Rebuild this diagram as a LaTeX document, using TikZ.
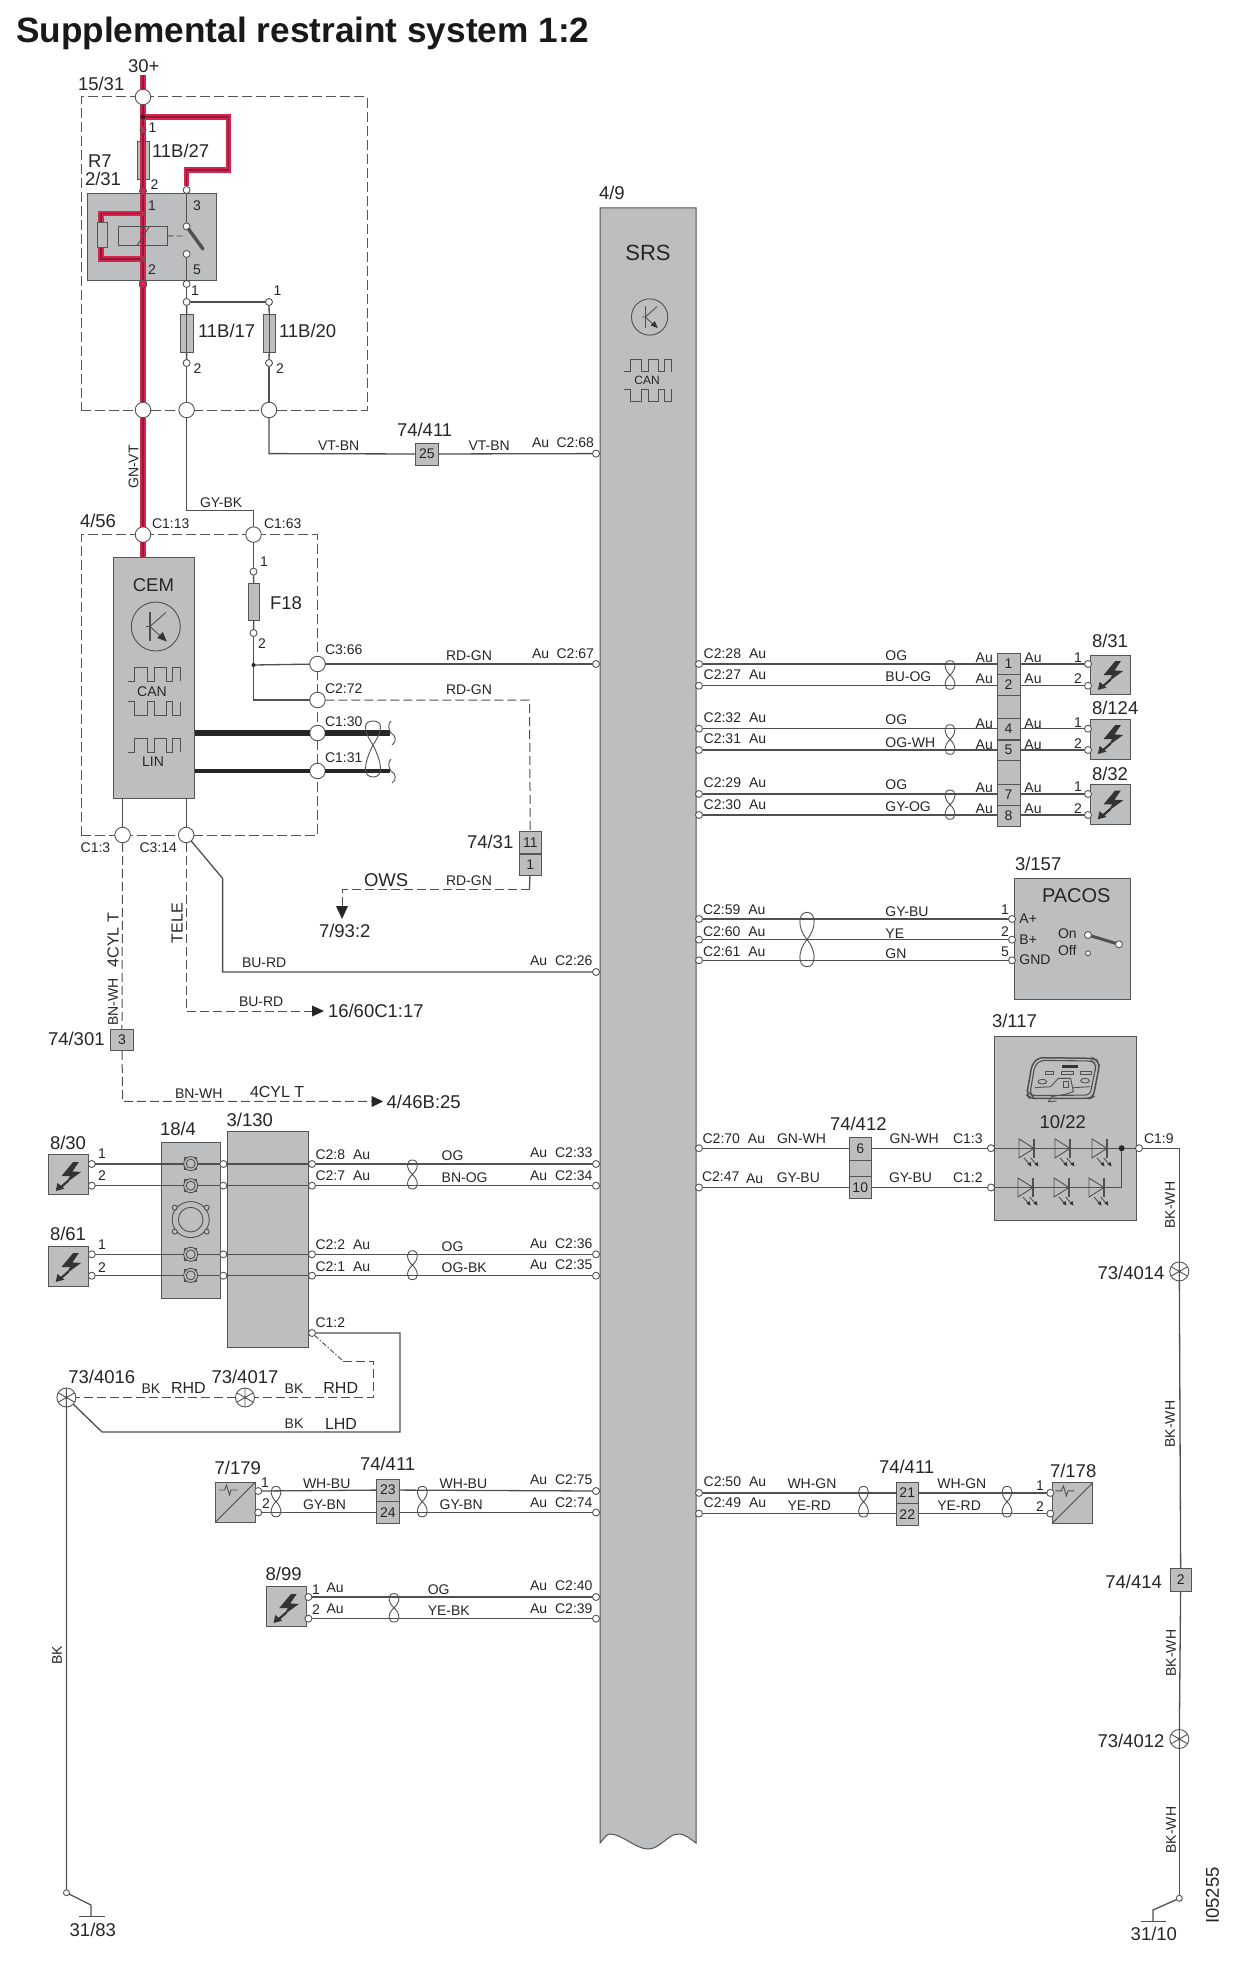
\documentclass[tikz,border=0pt]{standalone}
\usepackage{fontspec}
\setmainfont{Liberation Sans}
\usetikzlibrary{calc}
\definecolor{gfill}{HTML}{BDBEC0}
\definecolor{gline}{HTML}{555555}
\definecolor{txt}{HTML}{262626}
\definecolor{crim}{HTML}{D8234E}
\definecolor{crimcore}{HTML}{8E1B38}
\definecolor{wirec}{HTML}{505050}
\newcounter{tn}
\newcommand{\tS}[3]{\stepcounter{tn}\node[smalltxt] (t\arabic{tn}) at (#1,#2) {#3};}
\newcommand{\tL}[3]{\stepcounter{tn}\node[bigtxt] (t\arabic{tn}) at (#1,#2) {#3};}
\newcommand{\tM}[3]{\stepcounter{tn}\node[midtxt] (t\arabic{tn}) at (#1,#2) {#3};}
\newcommand{\tC}[3]{\stepcounter{tn}\node[smalltxt,anchor=center] (t\arabic{tn}) at (#1,#2) {#3};}
\newcommand{\tRS}[3]{\stepcounter{tn}\node[smalltxt,anchor=center,rotate=90] (t\arabic{tn}) at (#1,#2) {#3};}
\newcommand{\tRL}[3]{\stepcounter{tn}\node[bigtxt,anchor=center,rotate=90] (t\arabic{tn}) at (#1,#2) {#3};}
\newcommand{\tRM}[3]{\stepcounter{tn}\node[midtxt,anchor=center,rotate=90] (t\arabic{tn}) at (#1,#2) {#3};}
\newcommand{\gb}[6]{\node[gbox,minimum width={(#4-#2)*1pt},minimum height={(#5-#3)*1pt},font=\fontsize{14}{14}\selectfont] (#1) at ({(#2+#4)/2},{(#3+#5)/2}) {#6};}
\newcommand{\pinat}[3]{\node[pinc] (#1) at (#2,#3) {};}
\newcommand{\conn}[3]{\node[connc] (#1) at (#2,#3) {};}
\newcommand{\mytwist}[4]{\draw[twistline] (#1,{(#2+#3)/2}) .. controls ({#1+#4},{(#2+#3)/2-(#3-#2)*0.2}) and ({#1+#4},#2) .. (#1,#2) .. controls ({#1-#4},#2) and ({#1-#4},{(#2+#3)/2-(#3-#2)*0.2}) .. (#1,{(#2+#3)/2}) .. controls ({#1+#4},{(#2+#3)/2+(#3-#2)*0.2}) and ({#1+#4},#3) .. (#1,#3) .. controls ({#1-#4},#3) and ({#1-#4},{(#2+#3)/2+(#3-#2)*0.2}) .. (#1,{(#2+#3)/2});}
\newcommand{\mybolt}[2]{\begin{scope}[shift={(#1,#2)},scale=1.15]
\fill[boltc] (4,-12)--(9,-12)--(3.5,-4)--(11,-3.5)--(-2,6)--(1.5,0)--(-6,0)--cycle;
\draw[boltc,draw=black!80,line width=2.2] (0,4)--(-8,11);
\fill[boltc] (-11,13)--(-9.5,6)--(-3.5,11)--cycle;
\end{scope}}
\newcommand{\mytrans}[3]{\begin{scope}[shift={(#1,#2)},scale=#3]
\draw[sym] (0,0) circle [radius=24.5];
\draw[sym,line width=1.2] (-5.8,-14.5)--(-5.8,14.5);
\draw[sym] (-10,0)--(-5.8,0) (-5.8,0)--(10,-14) (-5.8,0)--(5,10);
\fill[boltc] (11,15)--(1.5,11.5)--(7,5.5)--cycle;
\end{scope}}
\newcommand{\pulseA}[3]{\begin{scope}[shift={(#1,#2)},scale=#3]
\draw[sym] (0,14)--(6.7,14)--(6.7,0)--(19.3,0)--(19.3,14)--(26.3,14)--(26.3,0)--(38.3,0)--(38.3,14)--(45,14)--(45,0)--(52.3,0)--(52.3,14);
\end{scope}}
\newcommand{\pulseB}[3]{\begin{scope}[shift={(#1,#2)},scale=#3]
\draw[sym] (0,0)--(6.7,0)--(6.7,14)--(19.3,14)--(19.3,0)--(26.3,0)--(26.3,14)--(38.3,14)--(38.3,0)--(45,0)--(45,14)--(52.3,14)--(52.3,0);
\end{scope}}
\newcommand{\myled}[2]{\begin{scope}[shift={(#1,#2)}]
\draw[sym] (0,-9.5)--(0,9.5)--(15,0)--cycle;
\draw[sym,line width=1.2] (15,-9.5)--(15,9.5);
\draw[sym] (5,9.5)--(11,16.5) (11.7,9.5)--(17.7,16.5);
\fill[boltc] (12.5,18)--(8.5,16)--(11.5,13.5)--cycle (19.5,18)--(15.5,16)--(18.5,13.5)--cycle;
\end{scope}}
\newcommand{\mygear}[2]{\begin{scope}[shift={(#1,#2)}]
\draw[sym,line width=1.4] (-6,-6) rectangle (6,6);
\draw[sym,fill=gfill] (0,0) circle [radius=7];
\draw[sym] (0,0) circle [radius=4.5];
\end{scope}}
\newcommand{\myspokes}[2]{\begin{scope}[shift={(#1,#2)}]
\draw[sym] (0,-9.5)--(0,9.5) (-8.2,-4.7)--(8.2,4.7) (-8.2,4.7)--(8.2,-4.7);
\end{scope}}
\newcommand{\mywaveform}[2]{\begin{scope}[shift={(#1,#2)}]
\draw[sym] (3,8)--(9,8)--(11,3)--(14,13)--(15.5,8)--(22,8);
\end{scope}}
\tikzset{
 x=1pt,y=-1pt,
 smalltxt/.style={font=\fontsize{14}{14}\selectfont,text=txt,inner sep=0pt,outer sep=0pt,anchor=west},
 bigtxt/.style={font=\fontsize{18.5}{18.5}\selectfont,text=txt,inner sep=0pt,outer sep=0pt,anchor=west},
 midtxt/.style={font=\fontsize{16}{16}\selectfont,text=txt,inner sep=0pt,outer sep=0pt,anchor=west},
 gbox/.style={draw=gline,fill=gfill,line width=1,inner sep=0pt,outer sep=0pt,text=txt},
 pinc/.style={circle,draw=gline,fill=white,line width=0.9,minimum size=7pt,inner sep=0pt,outer sep=0pt},
 connc/.style={circle,draw=gline,fill=white,line width=0.9,minimum size=15.5pt,inner sep=0pt,outer sep=0pt},
 gndc/.style={circle,draw=gline,fill=white,line width=0.9,minimum size=19pt,inner sep=0pt,outer sep=0pt},
 wire/.style={draw=wirec,line width=1.3},
 dwire/.style={draw=wirec,line width=1,dash pattern=on 9pt off 4pt},
 dbox/.style={draw=gline,line width=1,dash pattern=on 10pt off 4pt},
 twistline/.style={draw=wirec,line width=0.9},
 sym/.style={draw=wirec,line width=0.9},
 boltc/.style={draw=none,fill=black!80},
 blk/.style={draw=none,fill=black!85},
 redwire/.style={draw=crimcore,line width=1.8,preaction={draw=crim,line width=6.6pt}},
 redthin/.style={draw=crimcore,line width=1.6,preaction={draw=crim,line width=5.2pt}},
 thickbus/.style={draw=black!85,line width=6.5},
 thinbus/.style={draw=black!85,line width=3.5},
 arrowhd/.style={draw=none,fill=black!85},
}
\begin{document}
\begin{tikzpicture}
\useasboundingbox (0,0) rectangle (1242,1980);
\fill[white] (0,0) rectangle (1242,1980);
% title
\node[font=\fontsize{35.2}{35.2}\selectfont\bfseries,text=black!90,inner sep=0pt,anchor=base west] (title) at (16,43) {Supplemental restraint system 1:2};
% dashed housings
\node[dbox,minimum width=286pt,minimum height=313pt,inner sep=0pt,outer sep=0pt] (box1531) at (224,253.5) {};
\node[dbox,minimum width=236.5pt,minimum height=300.2pt,inner sep=0pt,outer sep=0pt] (box456) at (199.25,684.9) {};
% SRS body
\draw[gline,fill=gfill,line width=1] (600,208) -- (696,208) -- (696,1843) .. controls (690,1839) and (686,1834) .. (678,1834) .. controls (668,1834) and (660,1849) .. (648,1849) .. controls (636,1849) and (622,1834) .. (610,1834) .. controls (606,1834) and (604,1839) .. (600,1843) -- cycle;
\node[font=\fontsize{22}{22}\selectfont,text=txt,inner sep=0pt] (srsname) at (648,253) {SRS};
\mytrans{649.6}{317}{0.74}
\pulseA{624.3}{359}{0.9}
\tC{647}{380.7}{\fontsize{12}{12}\selectfont CAN}
\pulseB{624.3}{389}{0.9}
% gray boxes
\gb{relay}{87.4}{193.6}{216.7}{280.4}{}
\gb{cem}{113.5}{557.3}{194.5}{798.5}{}
\gb{f27}{137}{142}{149.5}{180}{}
\gb{f17}{180}{314}{193.4}{352}{}
\gb{f20}{263.4}{314}{275.6}{352}{}
\gb{f18}{248.3}{583.4}{259.8}{620.6}{}
\gb{b25}{415.6}{443}{438}{465}{25}
\gb{b11}{519.6}{831.4}{541}{853}{11}
\gb{b1}{519.6}{854}{541}{875}{1}
\gb{b3}{110.3}{1029.5}{133.6}{1050.8}{3}
\gb{s830}{48.3}{1154.6}{88.6}{1194.6}{}
\gb{s861}{48.3}{1246.4}{88.6}{1286.4}{}
\gb{m184}{161.3}{1142.5}{220.6}{1298}{}
\gb{m3130}{227.4}{1131.4}{308.4}{1347}{}
\gb{s7179}{215.5}{1482}{255.4}{1522}{}
\gb{b23}{376.4}{1479}{399.4}{1501}{23}
\gb{b24}{376.4}{1501.4}{399.4}{1523.6}{24}
\gb{s899}{266}{1586.8}{306.4}{1626.8}{}
\gb{row1}{997}{653.3}{1020}{674}{1}
\gb{row2}{997}{674.7}{1020}{695.3}{2}
\gb{row3}{997}{695.3}{1020}{718.3}{}
\gb{row4}{997}{718.3}{1020}{739.3}{4}
\gb{row5}{997}{740}{1020}{760}{5}
\gb{row6}{997}{760}{1020}{784.3}{}
\gb{row7}{997}{784.3}{1020}{805}{7}
\gb{row8}{997}{805}{1020}{826}{8}
\gb{s831}{1090.4}{655}{1130.5}{694.7}{}
\gb{s8124}{1090.4}{719.3}{1130.5}{759}{}
\gb{s832}{1090.4}{784.3}{1130.5}{824.3}{}
\gb{pacos}{1014.4}{878.3}{1130.5}{999.3}{}
\gb{b6}{849.5}{1137.5}{871}{1160.7}{6}
\gb{bblank}{849.5}{1160.7}{871}{1176.4}{}
\gb{b10}{849.5}{1176.4}{871}{1198}{10}
\gb{m3117}{994.3}{1036.4}{1136}{1220.4}{}
\gb{b21}{896.5}{1482}{918}{1503.6}{21}
\gb{b22}{896.5}{1503.6}{918}{1525.7}{22}
\gb{s7178}{1052.4}{1482.9}{1092.5}{1523.2}{}
\gb{b2}{1170.4}{1568.3}{1191}{1591.7}{2}
% large connectors
\conn{cA}{143}{97} \conn{cB}{143}{410} \conn{cC}{186.6}{410} \conn{cD}{269}{410}
\conn{cE}{143}{534.6} \conn{cF}{253.5}{534.6} \conn{cG}{317.5}{664} \conn{cH}{317.5}{700}
\conn{cI}{317.5}{733} \conn{cJ}{317.5}{771} \conn{cK}{122.6}{835} \conn{cL}{186.2}{835}
% SRS pins
\pinat{l68}{596}{453.6} \pinat{l67}{596}{664} \pinat{l26}{596}{972}
\pinat{l33}{596}{1164} \pinat{l34}{596}{1185.7} \pinat{l36}{596}{1254.3} \pinat{l35}{596}{1275.7}
\pinat{l75}{596}{1491} \pinat{l74}{596}{1512.5} \pinat{l40}{596}{1597} \pinat{l39}{596}{1618.6}
\pinat{r28}{699}{664} \pinat{r27}{699}{685.7} \pinat{r32}{699}{728.7} \pinat{r31}{699}{750}
\pinat{r29}{699}{794} \pinat{r30}{699}{815} \pinat{r59}{699}{919} \pinat{r60}{699}{939.7} \pinat{r61}{699}{960.3}
\pinat{r70}{699}{1148.2} \pinat{r47}{699}{1187.5} \pinat{r50}{699}{1492.9} \pinat{r49}{699}{1513.6}
% other pins
\pinat{p3}{186.6}{190} \pinat{psw}{186.6}{226.4} \pinat{pct}{186.6}{254} \pinat{p5}{186.6}{284}
\pinat{p171}{186.6}{302} \pinat{p201}{269}{302} \pinat{p172}{186.6}{363} \pinat{p202}{269}{363}
\pinat{f181}{253.5}{571.6} \pinat{f182}{253.5}{633}
\pinat{a1}{91.7}{1164} \pinat{a2}{91.7}{1185.7} \pinat{a3}{91.7}{1254.3} \pinat{a4}{91.7}{1275.7}
\pinat{m1}{223.4}{1164} \pinat{m2}{223.4}{1185.7} \pinat{m3}{223.4}{1254.3} \pinat{m4}{223.4}{1275.7}
\pinat{n1}{312}{1164} \pinat{n2}{312}{1185.7} \pinat{n3}{312}{1254.3} \pinat{n4}{312}{1275.7} \pinat{nC}{312}{1333}
\pinat{k1}{258.2}{1491} \pinat{k2}{258.2}{1512.5} \pinat{h1}{308.4}{1597} \pinat{h2}{308.4}{1618.6}
\pinat{q1}{1088}{664} \pinat{q2}{1088}{685.7} \pinat{q4}{1088}{728.7} \pinat{q5}{1088}{750} \pinat{q7}{1088}{794} \pinat{q8}{1088}{815}
\pinat{pa}{1012}{919} \pinat{pb}{1012}{939.7} \pinat{pg}{1012}{960.3}
\pinat{c13}{991}{1148.2} \pinat{c12}{991}{1187.5} \pinat{c19}{1139}{1148.2}
\pinat{z1}{1050.3}{1492.9} \pinat{z2}{1050.3}{1513.6}
\node[pinc,minimum size=6pt] (g83p) at (66.5,1892.7) {};
\node[pinc,minimum size=6pt] (g10p) at (1179.3,1898.3) {};
% splice circles
\node[gndc] (g4016) at (66.4,1397.5) {};
\node[gndc] (g4017) at (245,1397.5) {};
\node[gndc] (g4014) at (1179.3,1271.4) {};
\node[gndc] (g4012) at (1179.3,1739) {};
% named free points
\coordinate (top30) at (143,75);
\coordinate (j117) at (143,117);
\coordinate (r1) at (228.5,117); \coordinate (r2) at (228.5,170); \coordinate (r3) at (186.6,170);
\coordinate (lp1) at (143,213.6); \coordinate (lp2) at (101,213.6); \coordinate (lp3) at (101,259); \coordinate (lp4) at (143,259);
\coordinate (v1) at (269,453.6);
\coordinate (gk1) at (186.6,510.7); \coordinate (gk2) at (253.5,510.7);
\coordinate (jF) at (253.5,665); \coordinate (hr) at (253.5,700);
\coordinate (rg1) at (529.5,700); \coordinate (rg2) at (529.5,889); \coordinate (rg3) at (342,889); \coordinate (arr793) at (342,908);
\coordinate (can1) at (194.5,733); \coordinate (can2) at (389.5,733); \coordinate (lin1) at (194.5,771); \coordinate (lin2) at (389.5,771);
\coordinate (bu1) at (222.6,878.4); \coordinate (bu2) at (222.6,972);
\coordinate (te1) at (186.2,1011); \coordinate (te2) at (313,1011);
\coordinate (bn1) at (122.6,1101.4); \coordinate (bn2) at (372,1101.4);
\coordinate (lh1) at (400,1333); \coordinate (lh2) at (400,1432); \coordinate (lh3) at (102,1432);
\coordinate (rh1) at (343,1361); \coordinate (rh2) at (373.7,1361); \coordinate (rh3) at (373.7,1397.5);
\coordinate (gl1) at (91,1905); \coordinate (gl2) at (91,1916.7);
\coordinate (gr1) at (1153,1910); \coordinate (gr2) at (1153,1921.7);
\coordinate (c19c) at (1179.3,1148.2);
\coordinate (j1121) at (1121.6,1148.2); \coordinate (j1122) at (1121.6,1187.5);
% red power wires
\draw[redwire] (top30) -- (cA);
\draw[redwire] (cA) -- (cB);
\draw[redwire] (cB) -- (cE);
\draw[redwire] (cE) -- (cem.north -| cE);
\draw[redthin] (j117) -- (r1) -- (r2) -- (r3) -- (p3);
\draw[redthin] (lp1) -- (lp2) -- (lp3) -- (lp4);
\fill[black!85] (j117) circle [radius=2.4];
\node[pinc,fill=crim,minimum size=6pt] (p27a) at (143,130) {};
\node[pinc,fill=crim,minimum size=7pt] (p27b) at (143,191) {};
\node[pinc,fill=crim,minimum size=4.5pt] (p11) at (143,213.6) {};
\node[pinc,fill=crim,minimum size=4.5pt] (p12) at (143,259) {};
\node[pinc,fill=crim,minimum size=7pt,rectangle,rounded corners=2pt] (p13) at (143,284) {};
% relay internals
\node[gbox,minimum width=9.5pt,minimum height=25.5pt] (rres) at (102.7,235.2) {};
\node[draw=wirec,line width=0.9,minimum width=49pt,minimum height=19pt,inner sep=0pt,outer sep=0pt] (coil) at (143.1,235.9) {};
\draw[sym] (137,245.4)--(149.5,226.4);
\draw[sym,dash pattern=on 6pt off 3pt] (coil.east) -- (186,236);
\draw[sym] (p3) -- (psw);
\draw[wirec,line width=3.4,line cap=round] (psw) -- (203,249);
\draw[sym] (pct) -- (p5);
\draw[wire] (p5) -- (p171);
\draw[wire] (p171) -- (p201);
\draw[wire] (p171) -- (f17);
\draw[wire] (f17.north) -- (f17.south);
\draw[wire] (f17) -- (p172);
\draw[wire] (p172) -- (cC);
\draw[wire] (p201) -- (f20);
\draw[wire] (f20.north) -- (f20.south);
\draw[wire] (f20) -- (p202);
\draw[wire] (p202) -- (cD);
% upper wiring
\draw[wire] (cD) -- (v1) -- (b25);
\draw[wire] (b25) -- (l68);
\draw[wire] (cC) -- (gk1) -- (gk2) -- (cF);
\draw[wire] (cF) -- (f181);
\draw[wire] (f181) -- (f18);
\draw[wire] (f18) -- (f182);
\draw[wire] (f182) -- (hr) -- (cH);
\draw[wire] (jF) -- (cG);
\fill[black!85] (jF) circle [radius=2];
\draw[wire] (cG) -- (l67);
\draw[dwire] (cH) -- (rg1) -- (b11);
\draw[wire] (b1) -- (rg2);
\draw[dwire] (rg2) -- (rg3) -- (arr793);
\fill[arrowhd] (336,906)--(348,906)--(342,919)--cycle;
\draw[thickbus] (can1) -- (cI);
\draw[thickbus] (cI) -- (can2);
\draw[thinbus] (lin1) -- (cJ);
\draw[thinbus] (cJ) -- (lin2);
\draw[twistline] (373,745) .. controls (363,730) and (363,721) .. (373,721) .. controls (383,721) and (383,730) .. (373,745) .. controls (363,765) and (363,777) .. (373,777) .. controls (383,777) and (383,765) .. (373,745);
\draw[twistline] (391,721) .. controls (388,724) and (388,729) .. (391,733) .. controls (396,735) and (397,742) .. (392,745);
\draw[twistline] (391,759) .. controls (388,762) and (388,767) .. (391,771) .. controls (396,773) and (397,780) .. (392,783);
\draw[wire] (cem.south -| cK) -- (cK);
\draw[wire] (cem.south -| cL) -- (cL);
\draw[dwire] (cK) -- (b3);
\draw[dwire] (b3) -- (bn1) -- (bn2);
\fill[arrowhd] (371.7,1096)--(371.7,1107)--(383,1101.4)--cycle;
\draw[dwire] (cL) -- (te1) -- (te2);
\fill[arrowhd] (312,1005.5)--(312,1016.5)--(324,1011)--cycle;
\draw[wire] (cL) -- (bu1) -- (bu2) -- (l26);
% sensor wires
\foreach \u/\v/\w/\z in {a1/m1/n1/l33,a2/m2/n2/l34,a3/m3/n3/l36,a4/m4/n4/l35}{
 \draw[wire] (\u) -- (\v);
 \draw[wire] (\v) -- (\w);
 \draw[wire] (\w) -- (\z);
}
\mygear{190.7}{1163.6}\mygear{190.7}{1185.7}\mygear{190.7}{1254.3}\mygear{190.7}{1275.4}
\draw[sym] (190.7,1219.6) ellipse [x radius=18.5,y radius=18];
\draw[sym] (190.7,1219.6) circle [radius=12.3];
\foreach \dx in {-16,16}{\foreach \dy in {-12,12}{\draw[sym,fill=gfill] (190.7+\dx,1219.6+\dy) circle [radius=2.5];}}
\mytwist{412.4}{1160}{1189}{6.5}
\mytwist{412.4}{1250.7}{1279.6}{6.5}
% grounds left
\draw[wire] (nC) -- (lh1) -- (lh2) -- (lh3) -- (g4016);
\draw[sym,dash pattern=on 5pt off 2pt on 1.5pt off 2pt] (nC) -- (rh1);
\draw[dwire] (rh1) -- (rh2) -- (rh3) -- (g4017);
\draw[dwire] (g4017) -- (g4016);
\draw[wire] (g4016) -- (g83p);
\draw[wire] (g83p) -- (gl1) -- (gl2);
\coordinate (gb1) at (79,1916.7); \coordinate (gb2) at (105.4,1916.7);
\draw[wire] (gb1) -- (gb2);
\myspokes{66.4}{1397.5}\myspokes{245}{1397.5}\myspokes{1179.3}{1271.4}\myspokes{1179.3}{1739}
% 7/179 row
\draw[wire] (k1) -- (b23); \draw[wire] (b23) -- (l75);
\draw[wire] (k2) -- (b24); \draw[wire] (b24) -- (l74);
\draw[sym] (s7179.south west) -- (s7179.north east);
\mywaveform{215.5}{1482}
\mytwist{276}{1486.4}{1516.8}{6.5}
\mytwist{422.3}{1486.4}{1516.8}{6.5}
% 8/99 row
\draw[wire] (h1) -- (l40); \draw[wire] (h2) -- (l39);
\mytwist{394}{1593.6}{1622}{6.5}
\mybolt{68.4}{1176}\mybolt{68.4}{1267}\mybolt{286.2}{1608}
\mybolt{1110.5}{675}\mybolt{1110.5}{739}\mybolt{1110.5}{804.3}
% right rows
\foreach \u/\v/\w in {r28/row1/q1,r27/row2/q2,r32/row4/q4,r31/row5/q5,r29/row7/q7,r30/row8/q8}{
 \draw[wire] (\u) -- (\u -| \v.west);
 \draw[wire] (\u -| \v.east) -- (\w);
}
\mytwist{950}{660.7}{689.3}{6.5}
\mytwist{950}{724.7}{754.3}{6.5}
\mytwist{950}{790}{819.3}{6.5}
\draw[wire] (r59) -- (pa); \draw[wire] (r60) -- (pb); \draw[wire] (r61) -- (pg);
\mytwist{807}{912.3}{966.7}{9.5}
\pinat{swa}{1088}{935} \pinat{swb}{1119}{944.3}
\node[pinc,minimum size=5pt] (swc) at (1088,953.3) {};
\draw[wirec,line width=3] (swa) -- (swb);
% 3/117
\draw[wire] (r70) -- (r70 -| b6.west); \draw[wire] (r70 -| b6.east) -- (c13);
\draw[wire] (r47) -- (r47 -| b10.west); \draw[wire] (r47 -| b10.east) -- (c12);
\draw[wire] (c13) -- (c19);
\draw[wire] (c12) -- (j1122) -- (j1121);
\fill[black!85] (j1121) circle [radius=3];
\myled{1019}{1148.4}\myled{1055}{1148.4}\myled{1092}{1148.4}
\myled{1018}{1187.5}\myled{1054}{1187.5}\myled{1089}{1187.5}
\begin{scope}[shift={(1010,1045)},scale=0.3333]
\draw[sym,line width=1.5,rounded corners=5] (85,38)--(250,40)--(268,50)--(266,72)--(250,155)--(240,160)--(60,160)--(50,150)--(66,58)--cycle;
\draw[sym,line width=1.1,rounded corners=4] (92,46)--(245,48)--(258,56)--(256,72)--(240,150)--(66,152)--(60,146)--(74,62)--cycle;
\draw[sym] (105,80) rectangle (130,88) (155,80) rectangle (190,88) (212,80) rectangle (245,88);
\fill[boltc] (155,60) rectangle (205,68);
\draw[sym] (97,110) ellipse [x radius=13,y radius=7];
\draw[sym] (225,107) ellipse [x radius=13,y radius=7];
\draw[sym] (75,128)--(122,125)--(145,100)--(182,100)--(190,140)--(165,148)--(125,155)--(115,170)--(140,168);
\draw[sym] (160,108) rectangle (176,128);
\draw[sym] (190,128)--(240,125);
\end{scope}
% right ground chain
\draw[wire] (c19) -- (c19c) -- (g4014);
\draw[wire] (g4014) -- (b2);
\draw[wire] (b2) -- (g4012);
\draw[wire] (g4012) -- (g10p);
\draw[wire] (g10p) -- (gr1) -- (gr2);
\coordinate (gb3) at (1141,1921.7); \coordinate (gb4) at (1165.7,1921.7);
\draw[wire] (gb3) -- (gb4);
% 7/178
\draw[wire] (r50) -- (r50 -| b21.west); \draw[wire] (r50 -| b21.east) -- (z1);
\draw[wire] (r49) -- (r49 -| b22.west); \draw[wire] (r49 -| b22.east) -- (z2);
\draw[sym] (s7178.south west) -- (s7178.north east);
\mywaveform{1052.4}{1482.9}
\mytwist{863.5}{1486.4}{1517}{6.5}
\mytwist{1007}{1486.4}{1517}{6.5}
% CEM symbols
\mytrans{155.8}{626.5}{1}
\pulseA{127.7}{667}{1}
\pulseB{127.7}{701.7}{1}
\pulseA{127.7}{738}{1}
% === big labels ===
\tL{128}{66}{30+}
\tL{78}{84}{15/31}
\tL{152}{151}{11B/27}
\tL{88}{161}{R7}
\tL{85}{179}{2/31}
\tL{198}{331}{11B/17}
\tL{279}{331}{11B/20}
\tL{397}{430}{74/411}
\tL{80}{521}{4/56}
\tL{599}{193}{4/9}
\tL{270}{603.6}{F18}
\tL{467}{842}{74/31}
\tL{319}{931}{7/93:2}
\tL{364}{880}{OWS}
\tL{48}{1038.5}{74/301}
\tL{386.7}{1101.4}{4/46B:25}
\tL{328}{1011}{16/60C1:17}
\tM{250}{1092}{4CYL T}
\tRM{177}{923}{TELE}
\tRM{113}{940}{4CYL T}
\tL{50}{1143}{8/30}
\tL{50}{1234}{8/61}
\tL{160}{1129}{18/4}
\tL{226.6}{1119.6}{3/130}
\tL{68.4}{1376.8}{73/4016}
\tL{211.5}{1376.8}{73/4017}
\tM{171}{1387.5}{RHD}
\tM{323.4}{1387.5}{RHD}
\tM{325}{1423.6}{LHD}
\tL{214.7}{1468}{7/179}
\tL{360}{1463.6}{74/411}
\tL{265.7}{1574}{8/99}
\tL{69.7}{1930}{31/83}
\tL{1092}{641}{8/31}
\tL{1092}{707.7}{8/124}
\tL{1092}{773.7}{8/32}
\tL{1015}{864}{3/157}
\tL{992}{1020.7}{3/117}
\tL{830}{1124.3}{74/412}
\tL{1097.6}{1273}{73/4014}
\tL{879}{1466.4}{74/411}
\tL{1050}{1470.7}{7/178}
\tL{1105.4}{1581.7}{74/414}
\tL{1097.5}{1741}{73/4012}
\tL{1130.7}{1934.3}{31/10}
\tRL{1212.4}{1895.5}{I05255}
\stepcounter{tn}\node[bigtxt,font=\fontsize{20}{20}\selectfont] (t\arabic{tn}) at (1042,895.7) {PACOS};
\stepcounter{tn}\node[bigtxt,anchor=center] (t\arabic{tn}) at (153.4,585.4) {CEM};
\stepcounter{tn}\node[bigtxt,anchor=center] (t\arabic{tn}) at (1062.8,1121.4) {10/22};
% === small labels ===
\tS{148.5}{127.5}{1}\tS{150.5}{185}{2}\tS{148}{206}{1}\tS{193}{206}{3}\tS{148}{270}{2}\tS{193}{270}{5}
\tS{191}{291}{1}\tS{273.5}{291}{1}\tS{193.5}{369}{2}\tS{276}{369}{2}
\tS{318}{445.4}{VT-BN}\tS{468.6}{445.4}{VT-BN}\tS{532}{443}{Au\hspace{7.5pt}C2:68}
\tRS{133.6}{467}{GN-VT}
\tS{200}{503}{GY-BK}\tS{152}{523.6}{C1:13}\tS{264}{523.6}{C1:63}
\tS{260}{562}{1}\tS{258}{644}{2}
\tS{325}{649.5}{C3:66}\tS{446}{655.8}{RD-GN}\tS{532}{653.4}{Au\hspace{7.5pt}C2:67}
\tS{325}{688.6}{C2:72}\tS{446}{690}{RD-GN}\tS{325}{721.4}{C1:30}\tS{325}{758}{C1:31}
\tC{152}{691.8}{CAN}\tC{153}{762}{LIN}
\tS{80.7}{848}{C1:3}\tS{139.6}{848}{C3:14}
\tS{446}{881}{RD-GN}\tS{242}{962.6}{BU-RD}\tS{530}{960.6}{Au\hspace{8pt}C2:26}
\tS{239}{1002}{BU-RD}\tRS{113}{1002}{BN-WH}\tS{175}{1094}{BN-WH}
\tS{98}{1153.6}{1}\tS{98}{1175.7}{2}\tS{98}{1244.6}{1}\tS{98}{1268}{2}
\tS{315.5}{1154.3}{C2:8\hspace{8pt}Au}\tS{315.5}{1176}{C2:7\hspace{8pt}Au}\tS{315.5}{1244.6}{C2:2\hspace{8pt}Au}\tS{315.5}{1266.8}{C2:1\hspace{8pt}Au}
\tS{441.7}{1155.7}{OG}\tS{441.7}{1178}{BN-OG}\tS{441.7}{1247}{OG}\tS{441.7}{1268}{OG-BK}
\tS{530}{1153}{Au\hspace{8pt}C2:33}\tS{530}{1175.7}{Au\hspace{8pt}C2:34}\tS{530}{1244}{Au\hspace{8pt}C2:36}\tS{530}{1265}{Au\hspace{8pt}C2:35}
\tS{315.5}{1323}{C1:2}
\tS{141.6}{1389}{BK}\tS{284.7}{1389}{BK}\tS{284.7}{1424}{BK}
\tS{261}{1483}{1}\tS{262}{1504}{2}
\tS{303}{1484}{WH-BU}\tS{303}{1505}{GY-BN}\tS{439.7}{1484}{WH-BU}\tS{439.7}{1505}{GY-BN}
\tS{530}{1480}{Au\hspace{8pt}C2:75}\tS{530}{1503}{Au\hspace{8pt}C2:74}
\tS{312}{1590}{1}\tS{312}{1610}{2}\tS{326.6}{1587.5}{Au}\tS{326.6}{1609}{Au}
\tS{427.8}{1589.6}{OG}\tS{427.8}{1611}{YE-BK}\tS{530}{1585.7}{Au\hspace{8pt}C2:40}\tS{530}{1609}{Au\hspace{8pt}C2:39}
\tRS{57}{1655}{BK}
\tS{703.7}{653.3}{C2:28\hspace{8pt}Au}\tS{703.7}{674.3}{C2:27\hspace{8pt}Au}\tS{703.7}{717.7}{C2:32\hspace{8pt}Au}\tS{703.7}{739}{C2:31\hspace{8pt}Au}\tS{703.7}{782.7}{C2:29\hspace{8pt}Au}\tS{703.7}{804.3}{C2:30\hspace{8pt}Au}
\tS{885.4}{656}{OG}\tS{885.4}{677}{BU-OG}\tS{885.4}{720}{OG}\tS{885.4}{742.3}{OG-WH}\tS{885.4}{785}{OG}\tS{885.4}{807}{GY-OG}
\tS{975.7}{657.7}{Au}\tS{975.7}{679}{Au}\tS{975.7}{723.7}{Au}\tS{975.7}{744.3}{Au}\tS{975.7}{787.3}{Au}\tS{975.7}{809}{Au}
\tS{1024.4}{657.7}{Au}\tS{1024.4}{679}{Au}\tS{1024.4}{723.7}{Au}\tS{1024.4}{744.3}{Au}\tS{1024.4}{787.3}{Au}\tS{1024.4}{809}{Au}
\tS{1074}{657.3}{1}\tS{1074}{679}{2}\tS{1074}{723}{1}\tS{1074}{744}{2}\tS{1074}{786.7}{1}\tS{1074}{809}{2}
\tS{703}{910}{C2:59\hspace{8pt}Au}\tS{703}{931.7}{C2:60\hspace{8pt}Au}\tS{703}{952}{C2:61\hspace{8pt}Au}
\tS{885.4}{912}{GY-BU}\tS{885.4}{933.7}{YE}\tS{885.4}{953.7}{GN}
\tS{1001}{910}{1}\tS{1001}{932}{2}\tS{1001}{952}{5}
\tS{1019.4}{918.3}{A+}\tS{1019.4}{940}{B+}\tS{1019.4}{960}{GND}\tS{1058}{933.7}{On}\tS{1058}{950.7}{Off}
\tS{702.6}{1138.6}{C2:70\hspace{8pt}Au\hspace{12pt}GN-WH}
\tS{702}{1177}{C2:47}\tS{746}{1178.6}{Au}\tS{776.8}{1177.5}{GY-BU}
\tS{889.7}{1138.6}{GN-WH}\tS{889}{1177.5}{GY-BU}\tS{953}{1138.6}{C1:3}\tS{953}{1177.5}{C1:2}\tS{1144}{1138.6}{C1:9}
\tRS{1170}{1205}{BK-WH}\tRS{1170}{1424}{BK-WH}\tRS{1171}{1653}{BK-WH}\tRS{1171}{1830}{BK-WH}
\tS{703.7}{1481.4}{C2:50\hspace{8pt}Au}\tS{703.7}{1502.9}{C2:49\hspace{8pt}Au}
\tS{787.5}{1484}{WH-GN}\tS{787.5}{1505.7}{YE-RD}\tS{937.3}{1484}{WH-GN}\tS{937.3}{1505.7}{YE-RD}
\tS{1036}{1485.7}{1}\tS{1036}{1506.4}{2}
\end{tikzpicture}
\end{document}
